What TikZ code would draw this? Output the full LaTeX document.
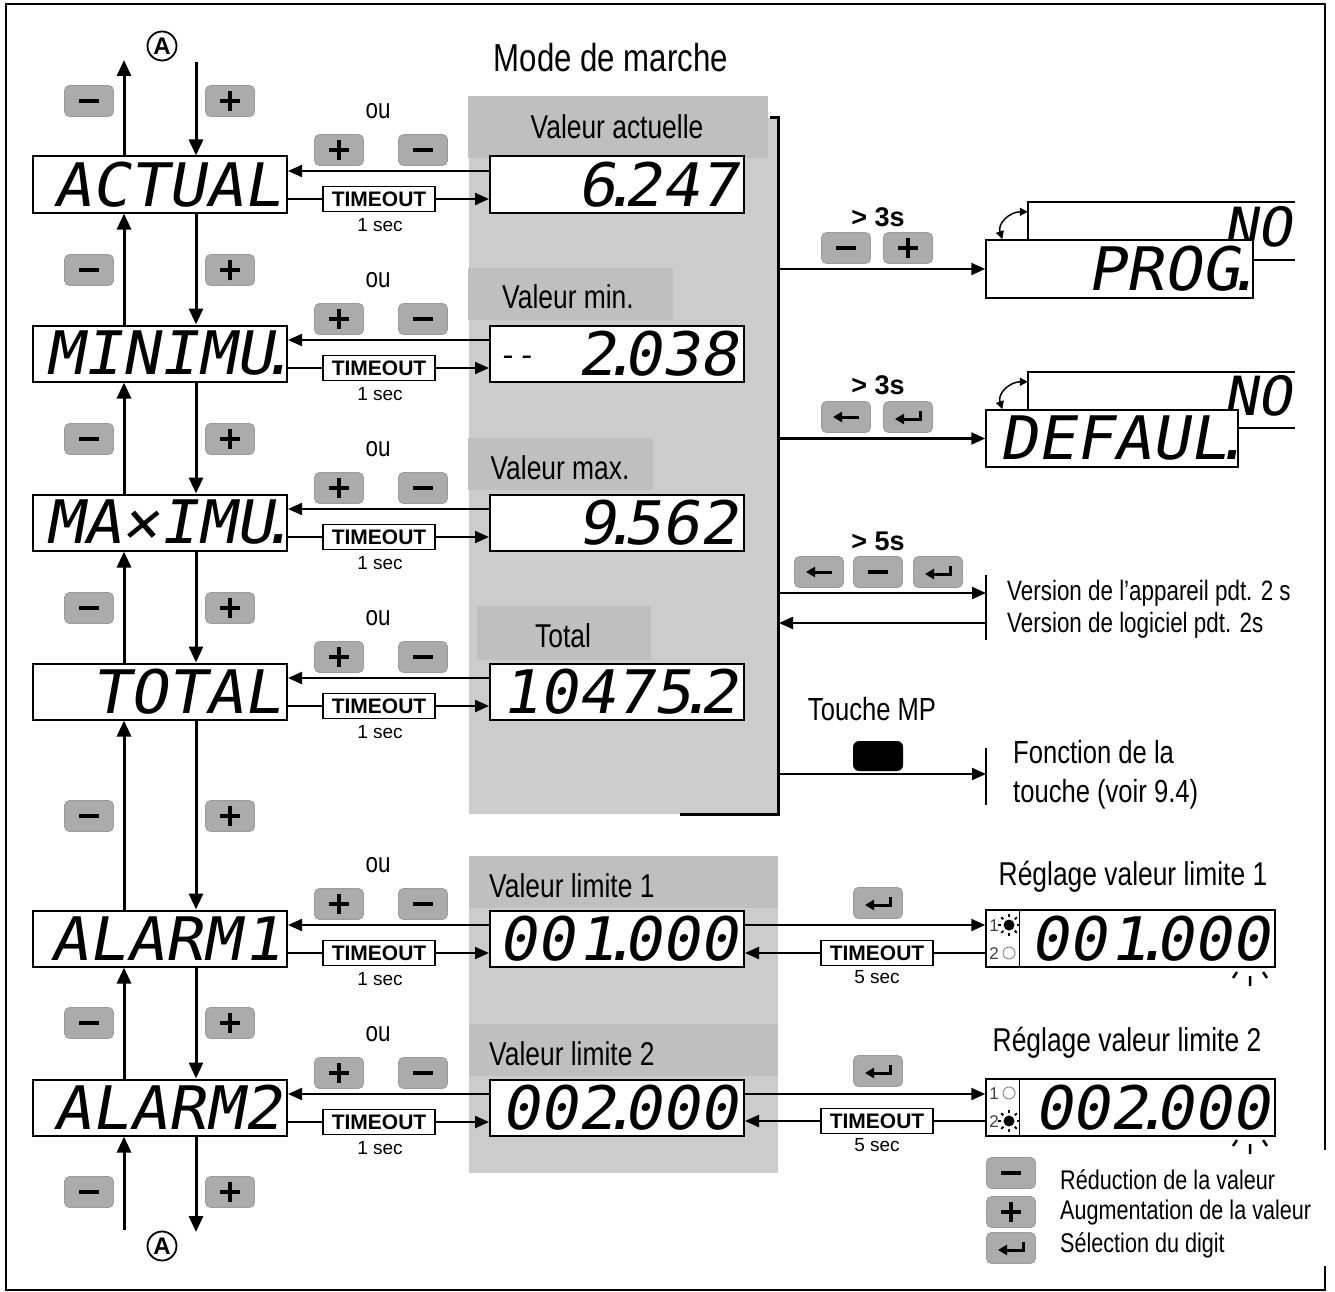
\documentclass[tikz,border=0pt]{standalone}
\usepackage{fontspec}
\setmainfont{Liberation Sans}
\newfontfamily\condf{Liberation Sans}[FakeStretch=0.8]
\newfontfamily\lcdf{DejaVu Sans Mono}[FakeSlant=0.18,FakeStretch=1.05]
\usetikzlibrary{arrows.meta}
\definecolor{panelgray}{HTML}{CCCCCC}
\definecolor{headgray}{HTML}{BFBFBF}
\definecolor{keygray}{HTML}{ABABAB}
\definecolor{keyedge}{HTML}{9A9A9A}
\newcommand\fsz[1]{\fontsize{#1}{#1}\selectfont}
\newcommand\ldot{\kern-0.25em.\kern-0.25em}
\newcommand\lgap{\hspace{-0.58em} }
\tikzset{
 disp/.style={draw, line width=2pt, fill=white, minimum width=254pt, minimum height=56pt, inner sep=0pt, font=\lcdf\fsz{60}},
 key/.style={rounded corners=5pt, fill=keygray, draw=keyedge, line width=0.8pt, minimum width=49pt, minimum height=31pt, inner sep=0pt},
 kminus/.style={key, path picture={\draw[draw=black, line width=3.5pt] ([xshift=-10pt]path picture bounding box.center) -- ([xshift=10pt]path picture bounding box.center);}},
 kplus/.style={key, path picture={\draw[draw=black, line width=3.5pt] ([xshift=-10pt]path picture bounding box.center) -- ([xshift=10pt]path picture bounding box.center) ([yshift=-10pt]path picture bounding box.center) -- ([yshift=10pt]path picture bounding box.center);}},
 kleft/.style={key, path picture={\draw[draw=black, line width=3pt, -{Triangle[length=9pt,width=10pt]}] ([xshift=13pt]path picture bounding box.center) -- ([xshift=-13pt]path picture bounding box.center);}},
 kenter/.style={key, path picture={\draw[draw=black, line width=3pt, sharp corners, -{Triangle[length=9pt,width=10pt]}] ([xshift=12pt,yshift=6pt]path picture bounding box.center) -- ([xshift=12pt,yshift=-2pt]path picture bounding box.center) -- ([xshift=-13pt,yshift=-2pt]path picture bounding box.center);}},
 tobox/.style={draw, line width=1.5pt, fill=white, minimum width=112pt, minimum height=25pt, inner sep=0pt, font=\bfseries\fsz{21}},
 hdr/.style={fill=headgray, inner sep=0pt},
 hdrtxt/.style={font=\condf\fsz{33}, inner sep=0pt},
 varr/.style={line width=3pt, -{Triangle[length=16pt,width=14pt]}},
 harr/.style={line width=2.2pt, -{Triangle[length=14pt,width=12pt]}},
 hline/.style={line width=2.2pt},
 rgbox/.style={draw, line width=1.5pt, fill=white, minimum width=289pt, minimum height=57pt, inner sep=0pt, font=\lcdf\fsz{60}},
 secbox/.style={draw, line width=1.5pt, fill=white, inner sep=0pt, font=\lcdf\fsz{60}},
 nobox/.style={fill=white, inner sep=0pt, font=\lcdf\fsz{54}},
 legtxt/.style={anchor=west, font=\condf\fsz{27}, inner sep=0pt},
 circA/.style={draw, circle, line width=1.8pt, minimum size=29pt, inner sep=0pt, font=\bfseries\fsz{24}},
}
\begin{document}
\begin{tikzpicture}[x=1pt,y=-1pt]
\useasboundingbox (0,0) rectangle (1335,1292);
\fill[white] (0,0) rectangle (1335,1292);
% outer frame
\draw[line width=2pt] (1325,1150) -- (1325,4) -- (6,4) -- (6,1290) -- (1325,1290) -- (1325,1266);
% panels
\fill[panelgray] (469,118) rectangle (778,814);
\fill[panelgray] (469,856) rectangle (778,1173);
\node[hdr, minimum width=300pt, minimum height=62pt] (h1) at (618,127) {};
\node[hdr, minimum width=205pt, minimum height=52pt] (h2) at (570.5,294) {};
\node[hdr, minimum width=185pt, minimum height=52pt] (h3) at (560.5,464) {};
\node[hdr, minimum width=174pt, minimum height=54pt] (h4) at (564,633) {};
\node[hdr, minimum width=309pt, minimum height=52pt] (h5) at (623.5,882) {};
\node[hdr, minimum width=309pt, minimum height=52pt] (h6) at (623.5,1050) {};
\node[hdrtxt] (ht1) at (617,127) {Valeur actuelle};
\node[hdrtxt] (ht2) at (568,297) {Valeur min.};
\node[hdrtxt] (ht3) at (560,468) {Valeur max.};
\node[hdrtxt] (ht4) at (563,636) {Total};
\node[hdrtxt, anchor=west] (ht5) at (489,886) {Valeur limite 1};
\node[hdrtxt, anchor=west] (ht6) at (489,1054) {Valeur limite 2};
\node[font=\condf\fsz{39}] (title) at (611,58) {Mode de marche};
% bracket
\coordinate (brtop) at (778,118);
\coordinate (brbot) at (778,814);
\draw[line width=3pt] (770,118) -- (brtop) -- (brbot) -- (680,814);
% rows
\foreach \n/\cy/\dtxt/\vtxt in {
 1/184.5/{ACTUAL}/{6\ldot247},
 2/353.5/{MINIMU\ldot}/{\raisebox{10pt}{\fsz{30}-{}-}\hfill 2\ldot038},
 3/522.5/{MA×IMU\ldot}/{9\ldot562},
 4/691.5/{TOTAL}/{10475\ldot2},
 5/938.5/{ALARM\lgap 1}/{00\lgap 1\ldot000},
 6/1107.5/{ALARM2}/{002\ldot000}}
{
 \node[disp] (d\n) at (160,\cy) {\makebox[242pt][r]{\dtxt}};
 \node[disp] (v\n) at (617,\cy) {\makebox[240pt][r]{\vtxt}};
 \node[font=\condf\fsz{28}] (ou\n) at (378,{\cy-73}) {ou};
 \node[kplus] (kp\n) at (339,{\cy-34.5}) {};
 \node[kminus] (km\n) at (423,{\cy-34.5}) {};
 \node[tobox] (t\n) at (379,{\cy+14.5}) {TIMEOUT};
 \node[font=\fsz{19}] (s\n) at (380,{\cy+40.5}) {1 sec};
 \coordinate (a\n) at (0,{\cy-13.5});
 \draw[harr] (v\n.west |- a\n) -- (d\n.east |- a\n);
 \draw[hline] (d\n.east |- t\n) -- (t\n.west);
 \draw[harr] (t\n.east) -- (v\n.west |- t\n);
}
% left keys
\foreach \n/\y in {0/101,1/270,2/439,3/608,4/816,5/1023,6/1192}{
 \node[kminus] (lm\n) at (89,\y) {};
 \node[kplus] (lp\n) at (230,\y) {};
}
% vertical arrows
\foreach \a/\b in {1/2,2/3,3/4,4/5,5/6}{
 \draw[varr] (124,0 |- d\b.north) -- (124,0 |- d\a.south);
 \draw[varr] (196,0 |- d\a.south) -- (196,0 |- d\b.north);
}
\node[circA] (A1) at (162,46) {A};
\node[circA] (A2) at (162,1246) {A};
\coordinate (topU) at (124,60);
\coordinate (topD) at (196,62);
\coordinate (botU) at (124,1230);
\coordinate (botD) at (196,1232);
\draw[varr] (topU |- d1.north) -- (topU);
\draw[varr] (topD) -- (topD |- d1.north);
\draw[varr] (botU) -- (botU |- d6.south);
\draw[varr] (botD |- d6.south) -- (botD);
% PROG
\node[font=\bfseries\fsz{27}] (g1) at (878,217) {> 3s};
\node[kminus] (pk1) at (846,248) {};
\node[kplus] (pk2) at (908,248) {};
\node[nobox, minimum width=267pt, minimum height=58pt] (no1) at (1161.5,231) {\raisebox{9pt}{\makebox[260pt][r]{NO}}};
\draw[line width=1.5pt] (no1.north east) -- (no1.north west) -- (no1.south west) -- (no1.south east);
\node[secbox, minimum width=267pt, minimum height=58pt] (prog) at (1119.5,269) {\makebox[256pt][r]{PROG\ldot}};
\draw[harr] (brtop |- prog.west) -- (prog.west);
\draw[line width=1.5pt, {Triangle[length=8pt,width=8pt]}-{Triangle[length=8pt,width=8pt]}] ([xshift=17pt]prog.north west) .. controls ([xshift=12pt,yshift=16pt]prog.north west) and ([xshift=-18pt,yshift=-10pt]no1.north west) .. ([yshift=-10pt]no1.north west);
% DEFAUL
\node[font=\bfseries\fsz{27}] (g2) at (878,385) {> 3s};
\node[kleft] (dk1) at (846,417) {};
\node[kenter] (dk2) at (908,417) {};
\node[nobox, minimum width=267pt, minimum height=56pt] (no2) at (1161.5,400) {\raisebox{9pt}{\makebox[260pt][r]{NO}}};
\draw[line width=1.5pt] (no2.north east) -- (no2.north west) -- (no2.south west) -- (no2.south east);
\node[secbox, minimum width=252pt, minimum height=57pt] (defa) at (1112,438.5) {\makebox[246pt][r]{DEFAUL\ldot}};
\draw[harr] (brtop |- defa.west) -- (defa.west);
\draw[line width=1.5pt, {Triangle[length=8pt,width=8pt]}-{Triangle[length=8pt,width=8pt]}] ([xshift=17pt]defa.north west) .. controls ([xshift=12pt,yshift=16pt]defa.north west) and ([xshift=-18pt,yshift=-10pt]no2.north west) .. ([yshift=-10pt]no2.north west);
% version
\node[font=\bfseries\fsz{27}] (g3) at (878,541) {> 5s};
\node[kleft] (vk1) at (819,572) {};
\node[kminus] (vk2) at (878,572) {};
\node[kenter] (vk3) at (938,572) {};
\coordinate (tk1a) at (986,575);
\coordinate (tk1b) at (986,640);
\draw[line width=2pt] (tk1a) -- (tk1b);
\draw[harr] (brtop |- 0,593) -- (tk1a |- 0,593);
\draw[harr] (tk1a |- 0,623) -- ([xshift=1pt]brtop |- 0,623);
\node[anchor=west, align=left, font=\condf\fontsize{28}{32}\selectfont, inner sep=0pt] (ver) at (1007,609) {Version de l’appareil pdt. 2 s\\Version de logiciel pdt. 2s};
% MP key
\node[font=\condf\fsz{32}] (mp) at (872,709) {Touche MP};
\node[fill=black, rounded corners=6pt, minimum width=50pt, minimum height=30pt, inner sep=0pt] (mpk) at (878,756) {};
\coordinate (tk2a) at (986,748);
\coordinate (tk2b) at (986,805);
\draw[line width=2pt] (tk2a) -- (tk2b);
\draw[harr] (brtop |- 0,774) -- (tk2a |- 0,774);
\node[anchor=west, align=left, font=\condf\fontsize{32}{39}\selectfont, inner sep=0pt] (fn) at (1013,775) {Fonction de la\\touche (voir 9.4)};
% reglage 1
\node[font=\condf\fsz{33}] (rt5) at (1133,877) {Réglage valeur limite 1};
\node[rgbox] (rg5) at (1130.5,938.5) {\makebox[278pt][r]{00\lgap 1\ldot000}};
\draw[line width=1.5pt] ([xshift=34pt]rg5.north west) -- ([xshift=34pt]rg5.south west);
\node[font=\fsz{17}, text=black!75, inner sep=0pt] (l51) at (994,926) {1};
\node[font=\fsz{17}, text=black!75, inner sep=0pt] (l52) at (994,954) {2};
\fill (1009,925) circle (5.5);
\foreach \ang in {0,45,...,315} \draw[line width=1.8pt] (1009,925) ++(\ang:8) -- ++(\ang:3);
\draw[black!45, line width=1pt] (1009,953) circle (6);
\draw[line width=2.5pt] (1233,978) -- (1237,972) (1250,976) -- (1250,986) (1263,972) -- (1267,978);
\node[kenter] (ke5) at (878,903) {};
\node[tobox] (tr5) at (877,953) {TIMEOUT};
\node[font=\fsz{19}] (sr5) at (877,977) {5 sec};
\draw[harr] (v5.east |- a5) -- (rg5.west |- a5);
\draw[hline] (rg5.west |- tr5) -- (tr5.east);
\draw[harr] (tr5.west) -- (v5.east |- tr5);
% reglage 2
\node[font=\condf\fsz{33}] (rt6) at (1127,1043) {Réglage valeur limite 2};
\node[rgbox] (rg6) at (1130.5,1107.5) {\makebox[278pt][r]{002\ldot000}};
\draw[line width=1.5pt] ([xshift=34pt]rg6.north west) -- ([xshift=34pt]rg6.south west);
\node[font=\fsz{17}, text=black!75, inner sep=0pt] (l61) at (994,1094) {1};
\node[font=\fsz{17}, text=black!75, inner sep=0pt] (l62) at (994,1122) {2};
\draw[black!45, line width=1pt] (1009,1093) circle (6);
\fill (1009,1121) circle (5.5);
\foreach \ang in {0,45,...,315} \draw[line width=1.8pt] (1009,1121) ++(\ang:8) -- ++(\ang:3);
\draw[line width=2.5pt] (1233,1146) -- (1237,1140) (1250,1144) -- (1250,1154) (1263,1140) -- (1267,1146);
\node[kenter] (ke6) at (878,1071) {};
\node[tobox] (tr6) at (877,1121) {TIMEOUT};
\node[font=\fsz{19}] (sr6) at (877,1145) {5 sec};
\draw[harr] (v6.east |- a6) -- (rg6.west |- a6);
\draw[hline] (rg6.west |- tr6) -- (tr6.east);
\draw[harr] (tr6.west) -- (v6.east |- tr6);
% legend
\node[kminus] (lg1) at (1011,1173) {};
\node[kplus] (lg2) at (1011,1212) {};
\node[kenter] (lg3) at (1011,1248) {};
\node[legtxt] (lt1) at (1060,1180) {Réduction de la valeur};
\node[legtxt] (lt2) at (1060,1213) {Augmentation de la valeur};
\node[legtxt] (lt3) at (1060,1245) {Sélection du digit};
\end{tikzpicture}
\end{document}
